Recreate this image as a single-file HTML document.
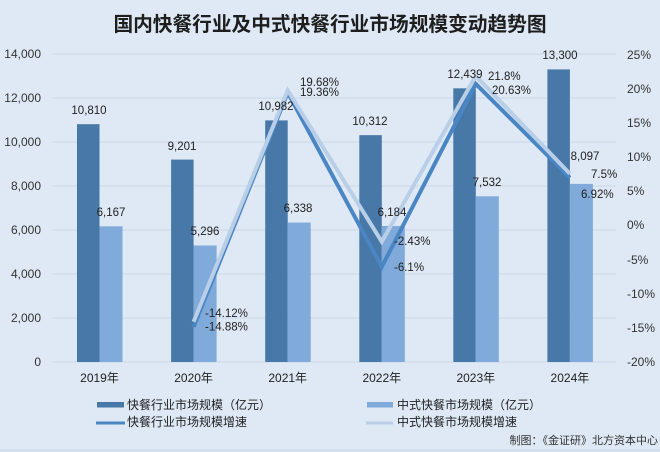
<!DOCTYPE html>
<html>
<head>
<meta charset="utf-8">
<style>
html,body{margin:0;padding:0;background:#dee9f5;}
svg{display:block;}
text{font-family:"Liberation Sans","Noto Sans CJK SC",sans-serif;}
</style>
</head>
<body>
<svg width="660" height="452" viewBox="0 0 660 452" xmlns="http://www.w3.org/2000/svg">
<rect x="0" y="0" width="660" height="452" fill="#dee9f5"/>
<rect x="0" y="449" width="660" height="3" fill="#d2deeb"/>
<text x="330" y="25" text-anchor="middle" dominant-baseline="central" font-size="19.7" font-weight="bold" fill="#1e1e1e">国内快餐行业及中式快餐行业市场规模变动趋势图</text>

<g stroke="#c9d6e5" stroke-width="1">
<line x1="52" y1="54" x2="616" y2="54"/>
<line x1="52" y1="98" x2="616" y2="98"/>
<line x1="52" y1="142" x2="616" y2="142"/>
<line x1="52" y1="186" x2="616" y2="186"/>
<line x1="52" y1="230" x2="616" y2="230"/>
<line x1="52" y1="274" x2="616" y2="274"/>
<line x1="52" y1="318" x2="616" y2="318"/>
<line x1="52" y1="362" x2="616" y2="362"/>
</g>

<g font-size="12" fill="#333" text-anchor="end" dominant-baseline="central">
<text x="41" y="54">14,000</text>
<text x="41" y="98">12,000</text>
<text x="41" y="142">10,000</text>
<text x="41" y="186">8,000</text>
<text x="41" y="230">6,000</text>
<text x="41" y="274">4,000</text>
<text x="41" y="318">2,000</text>
<text x="41" y="362">0</text>
</g>
<g font-size="12" fill="#333" text-anchor="start" dominant-baseline="central">
<text x="627" y="55">25%</text>
<text x="627" y="89">20%</text>
<text x="627" y="123">15%</text>
<text x="627" y="157">10%</text>
<text x="627" y="191">5%</text>
<text x="627" y="225">0%</text>
<text x="627" y="260">-5%</text>
<text x="627" y="294">-10%</text>
<text x="627" y="328">-15%</text>
<text x="627" y="362">-20%</text>
</g>

<g fill="#4878a8">
<rect x="77" y="124.18" width="22.5" height="237.82"/>
<rect x="171.1" y="159.58" width="22.5" height="202.42"/>
<rect x="265.2" y="120.4" width="22.5" height="241.6"/>
<rect x="359.3" y="135.14" width="22.5" height="226.86"/>
<rect x="453.3" y="88.34" width="22.5" height="273.66"/>
<rect x="547.4" y="69.4" width="22.5" height="292.6"/>
</g>
<g fill="#80aad9">
<rect x="99.5" y="226.33" width="23" height="135.67"/>
<rect x="193.6" y="245.49" width="23" height="116.51"/>
<rect x="287.7" y="222.56" width="23" height="139.44"/>
<rect x="381.8" y="225.95" width="23" height="136.05"/>
<rect x="475.8" y="196.3" width="23" height="165.7"/>
<rect x="569.9" y="183.87" width="23" height="178.13"/>
</g>

<polyline points="193.6,326.94 287.7,92.6 381.8,266.85 475.8,83.91 569.9,177.74" fill="none" stroke="#4a86c4" stroke-width="4" stroke-linejoin="miter"/>
<polyline points="193.6,321.74 287.7,90.41 381.8,241.73 475.8,75.9 569.9,173.77" fill="none" stroke="#b9cfe8" stroke-width="4" stroke-linejoin="miter"/>

<g font-size="11.5" fill="#222" text-anchor="middle" dominant-baseline="central">
<text x="89" y="111">10,810</text>
<text x="111" y="213">6,167</text>
<text x="182" y="147">9,201</text>
<text x="205" y="232">5,296</text>
<text x="276" y="107">10,982</text>
<text x="298" y="209">6,338</text>
<text x="370" y="122">10,312</text>
<text x="392" y="213">6,184</text>
<text x="465" y="75">12,439</text>
<text x="487" y="183">7,532</text>
<text x="560" y="56">13,300</text>
<text x="585" y="157">8,097</text>
</g>
<g font-size="11.5" fill="#222" text-anchor="start" dominant-baseline="central">
<text x="205" y="314">-14.12%</text>
<text x="205" y="327.5">-14.88%</text>
<text x="300" y="83">19.68%</text>
<text x="300" y="93">19.36%</text>
<text x="394" y="242">-2.43%</text>
<text x="394" y="268">-6.1%</text>
<text x="488" y="77">21.8%</text>
<text x="492" y="91">20.63%</text>
<text x="591" y="175">7.5%</text>
<text x="581" y="195">6.92%</text>
</g>

<g font-size="12" fill="#222" text-anchor="middle" dominant-baseline="central">
<text x="99.5" y="378">2019年</text>
<text x="193.6" y="378">2020年</text>
<text x="287.7" y="378">2021年</text>
<text x="381.8" y="378">2022年</text>
<text x="475.8" y="378">2023年</text>
<text x="569.9" y="378">2024年</text>
</g>

<rect x="97" y="402" width="27" height="5.5" fill="#4878a8"/>
<rect x="367" y="402" width="26" height="5.5" fill="#80aad9"/>
<line x1="96" y1="423" x2="125" y2="423" stroke="#4a86c4" stroke-width="3"/>
<line x1="366" y1="423" x2="393" y2="423" stroke="#b9cfe8" stroke-width="3"/>
<g font-size="12" fill="#222" dominant-baseline="central">
<text x="127" y="405">快餐行业市场规模（亿元）</text>
<text x="397" y="405">中式快餐市场规模（亿元）</text>
<text x="127" y="422">快餐行业市场规模增速</text>
<text x="397" y="422">中式快餐市场规模增速</text>
</g>
<text x="658" y="441" text-anchor="end" dominant-baseline="central" font-size="11" fill="#333">制图：《金证研》北方资本中心</text>
</svg>
</body>
</html>
